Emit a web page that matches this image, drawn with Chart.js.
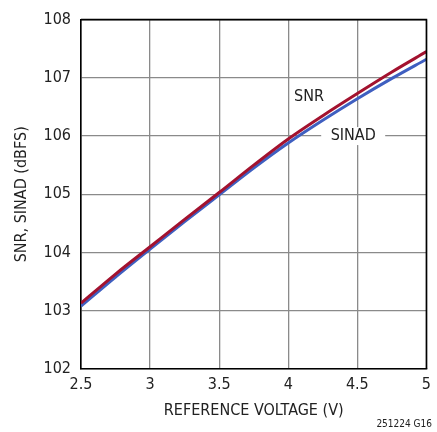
<!DOCTYPE html>
<html>
<head>
<meta charset="utf-8">
<script src="https://cdn.jsdelivr.net/npm/chart.js@4/dist/chart.umd.min.js"></script>
<style>
  html, body { margin: 0; padding: 0; background: #fff; }
  #wrap { width: 437px; height: 432px; }
</style>
</head>
<body>
<div id="wrap"><canvas id="chart" width="437" height="432"></canvas></div>
<script>
// values
const voltage = [2.5, 2.75, 3, 3.25, 3.5, 3.75, 4, 4.25, 4.5, 4.75, 5];
const snr   = [103.13, 103.63, 104.10, 104.57, 105.03, 105.50, 105.95, 106.35, 106.73, 107.10, 107.45];
const sinad = [103.08, 103.58, 104.06, 104.53, 104.99, 105.45, 105.88, 106.27, 106.64, 106.99, 107.32];
const xTicks = [2.5, 3, 3.5, 4, 4.5, 5];
const yTicks = [102, 103, 104, 105, 106, 107, 108];

const FONT = "'DejaVu Sans Condensed', 'Liberation Sans Narrow', 'Liberation Sans', sans-serif";

// curve labels, frame and figure id
const labelPlugin = {
  id: "curveLabels",
  afterDatasetsDraw(chart) {
    const { ctx, scales, chartArea } = chart;
    const x = scales.x, y = scales.y;
    ctx.save();
    // black frame on top and right like the axes
    ctx.strokeStyle = "#000";
    ctx.lineWidth = 1.6;
    ctx.beginPath();
    ctx.moveTo(chartArea.left, chartArea.top);
    ctx.lineTo(chartArea.right, chartArea.top);
    ctx.lineTo(chartArea.right, chartArea.bottom);
    ctx.stroke();

    ctx.font = "16px " + FONT;
    ctx.fillStyle = "#222";
    ctx.textAlign = "center";
    ctx.textBaseline = "middle";
    ctx.fillText("SNR", x.getPixelForValue(4.15), y.getPixelForValue(106.67));

    const sx = x.getPixelForValue(4.47), sy = y.getPixelForValue(106);
    ctx.fillStyle = "#fff";
    ctx.fillRect(sx - 32, sy - 9, 64, 18);
    ctx.fillStyle = "#222";
    ctx.fillText("SINAD", sx, sy);

    ctx.font = "10px " + FONT;
    ctx.textAlign = "right";
    ctx.fillText("251224 G16", 432, 424);
    ctx.restore();
  }
};

new Chart(document.getElementById("chart"), {
  type: "line",
  data: {
    datasets: [
      {
        label: "SNR",
        data: voltage.map((v, i) => ({ x: v, y: snr[i] })),
        borderColor: "#a3122f",
        borderWidth: 3,
        pointRadius: 0,
        cubicInterpolationMode: "monotone",
        order: 0
      },
      {
        label: "SINAD",
        data: voltage.map((v, i) => ({ x: v, y: sinad[i] })),
        borderColor: "#3f5fc0",
        borderWidth: 3,
        pointRadius: 0,
        cubicInterpolationMode: "monotone",
        order: 1
      }
    ]
  },
  options: {
    responsive: false,
    animation: false,
    layout: { padding: { top: 17, right: 5, left: 0, bottom: 0 } },
    plugins: { legend: { display: false }, tooltip: { enabled: false } },
    scales: {
      x: {
        type: "linear",
        min: 2.5,
        max: 5,
        afterBuildTicks(scale) { scale.ticks = xTicks.map(v => ({ value: v })); },
        afterFit(scale) { scale.height = 63; },
        grid: { color: "#8a8a8a", lineWidth: 1.3, drawTicks: false },
        border: { color: "#000", width: 1.6 },
        ticks: {
          color: "#222",
          padding: 6,
          font: { family: FONT, size: 16 },
          callback: v => String(v)
        },
        title: {
          display: true,
          text: "REFERENCE VOLTAGE (V)",
          color: "#222",
          font: { family: FONT, size: 16 },
          padding: { top: 2, bottom: 12 }
        }
      },
      y: {
        min: 102,
        max: 108,
        afterBuildTicks(scale) { scale.ticks = yTicks.map(v => ({ value: v })); },
        afterFit(scale) { scale.width = 81; },
        grid: { color: "#8a8a8a", lineWidth: 1.3, drawTicks: false },
        border: { color: "#000", width: 1.6 },
        ticks: {
          color: "#222",
          padding: 10,
          font: { family: FONT, size: 16 }
        },
        title: {
          display: true,
          text: "SNR, SINAD (dBFS)",
          color: "#222",
          font: { family: FONT, size: 16 },
          padding: { top: 12, bottom: 4 }
        }
      }
    }
  },
  plugins: [labelPlugin]
});
</script>
</body>
</html>
